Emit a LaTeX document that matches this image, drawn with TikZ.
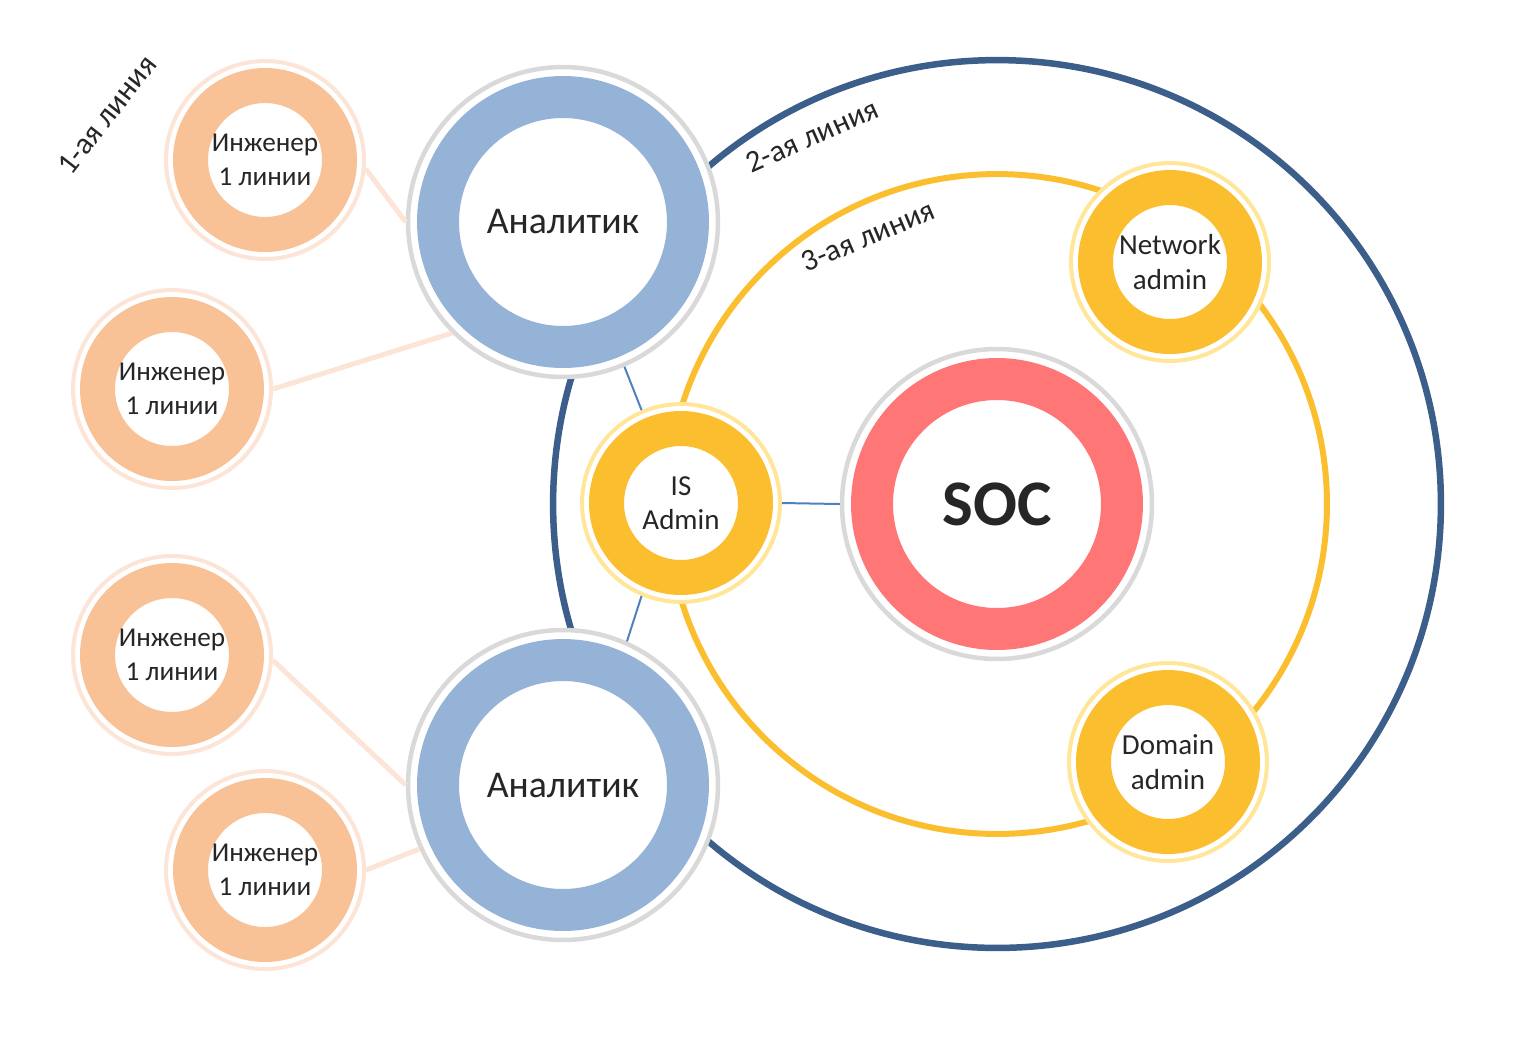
\documentclass[tikz,border=0pt]{standalone}
\usepackage{fontspec}
\setmainfont{Carlito}
\definecolor{linetwo}{RGB}{59,94,138}
\definecolor{gold}{RGB}{251,190,46}
\definecolor{palegold}{RGB}{255,230,153}
\definecolor{anblue}{RGB}{149,179,215}
\definecolor{halogray}{RGB}{217,217,217}
\definecolor{socred}{RGB}{255,118,118}
\definecolor{engorange}{RGB}{248,193,150}
\definecolor{engpale}{RGB}{252,228,214}
\definecolor{linkblue}{RGB}{79,129,189}
\definecolor{txt}{RGB}{38,38,38}
\tikzset{
	smallhalo/.style={circle, draw=#1, fill=white, line width=0.08cm, minimum size=3.96cm, inner sep=0pt},
	smallring/.style={circle, draw=#1, fill=white, line width=0.7cm, minimum size=2.98cm, inner sep=0pt,
		align=center, text=txt, font=\fontsize{15.5}{19.5}\selectfont},
	adminring/.style={smallring=gold, font=\fontsize{16.5}{19.5}\selectfont},
	bighalo/.style={circle, draw=halogray, fill=white, line width=0.09cm, minimum size=6.2cm, inner sep=0pt},
	bigring/.style={circle, draw=#1, fill=white, line width=0.84cm, minimum size=5cm, inner sep=0pt,
		align=center, text=txt, font=\fontsize{21.5}{26}\selectfont},
	linelabel/.style={text=txt, font=\fontsize{17.5}{20}\selectfont, inner sep=1pt},
	orangelink/.style={draw=engpale, line width=0.1cm},
	bluelink/.style={draw=linkblue, line width=0.04cm}
}
\begin{document}
\begin{tikzpicture}[x=0.02cm, y=-0.02cm]
\useasboundingbox (0,0) rectangle (1534,1036);
\coordinate (centre) at (997,504);

% lines 2 and 3
\draw[linetwo, line width=0.13cm] (centre) circle (8.88cm);
\draw[gold, line width=0.12cm] (centre) circle (6.6cm);

% SOC
\node[bighalo] (soc) at (centre) {};
\node[bigring=socred, font=\fontsize{37}{40}\selectfont\bfseries] (socr) at (centre) {SOC};

% analysts
\node[bighalo] (an1) at (563,222) {};
\node[bigring=anblue] (an1r) at (an1) {Аналитик};
\node[bighalo] (an2) at (563,785) {};
\node[bigring=anblue] (an2r) at (an2) {Аналитик};

% admins
\node[smallhalo=palegold] (isadm) at (681,503) {};
\node[adminring] (isadmr) at (isadm) {IS\\Admin};
\node[smallhalo=palegold] (netadm) at (1170,262) {};
\node[adminring] (netadmr) at (netadm) {Network\\admin};
\node[smallhalo=palegold] (domadm) at (1168,762) {};
\node[adminring] (domadmr) at (domadm) {Domain\\admin};

% engineers
\node[smallhalo=engpale] (eng1) at (265,160) {};
\node[smallring=engorange] (eng1r) at (eng1) {Инженер\\1 линии};
\node[smallhalo=engpale] (eng2) at (172,389) {};
\node[smallring=engorange] (eng2r) at (eng2) {Инженер\\1 линии};
\node[smallhalo=engpale] (eng3) at (172,655) {};
\node[smallring=engorange] (eng3r) at (eng3) {Инженер\\1 линии};
\node[smallhalo=engpale] (eng4) at (265,870) {};
\node[smallring=engorange] (eng4r) at (eng4) {Инженер\\1 линии};

% links
\draw[orangelink] (eng1.-5) -- (an1.180);
\draw[orangelink] (eng2.0) -- (an1.225);
\draw[orangelink] (eng3.-3) -- (an2.180);
\draw[orangelink] (eng4.0) -- (an2.204);
\draw[bluelink] (an1.-67) -- (isadm.113);
\draw[bluelink] (isadm.247) -- (an2.66);
\draw[bluelink] (isadm.0) -- (soc.180);

% line labels
\node[linelabel, rotate=52] (lbl1) at (107,115) {1-ая линия};
\node[linelabel, rotate=24] (lbl2) at (812,136) {2-ая линия};
\node[linelabel, rotate=23] (lbl3) at (868,236) {3-ая линия};
\end{tikzpicture}
\end{document}
